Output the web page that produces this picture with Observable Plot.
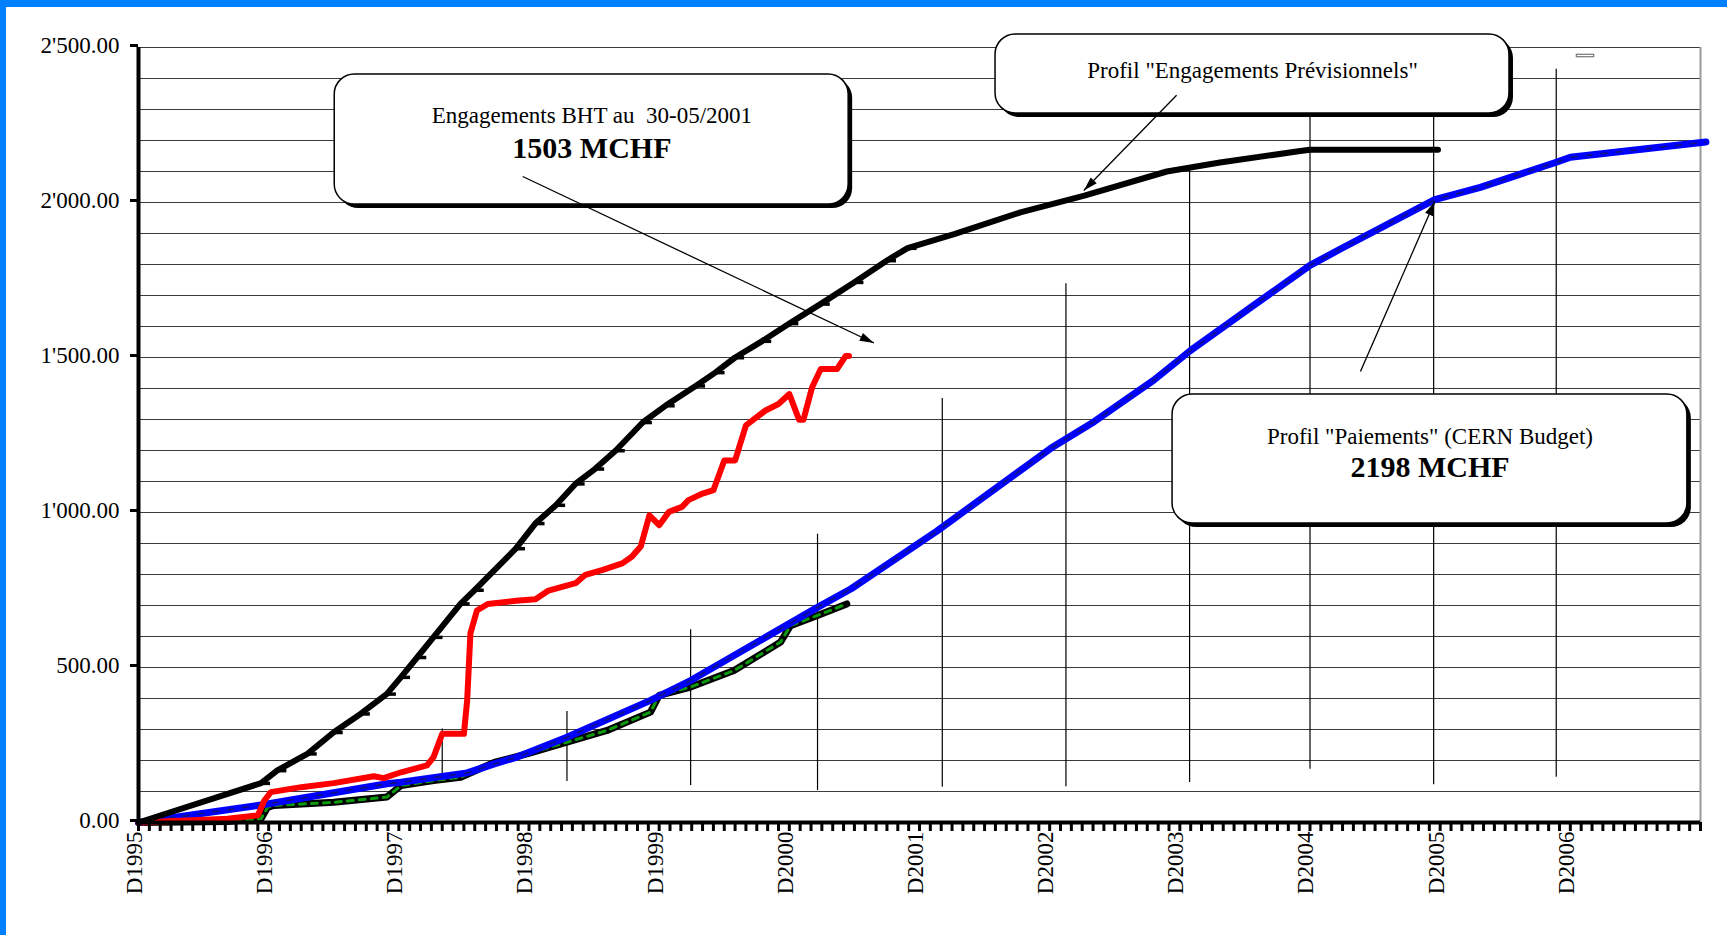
<!DOCTYPE html>
<html><head><meta charset="utf-8">
<script src="https://cdn.jsdelivr.net/npm/d3@7"></script>
<script src="https://cdn.jsdelivr.net/npm/@observablehq/plot@0.6"></script>
<style>
html,body{margin:0;padding:0;background:#fff;overflow:hidden;}
#chart{position:absolute;left:0;top:0;}
#bt{position:absolute;left:0;top:0;width:1727px;height:7px;background:#0080ff;}
#bl{position:absolute;left:0;top:0;width:6px;height:935px;background:#0080ff;}
svg text{white-space:pre;}
</style></head><body>
<div id="chart"></div><div id="bt"></div><div id="bl"></div>
<script>
// ---------- data (months since December 1995, values in MCHF) ----------
const xLabels = ["D1995","D1996","D1997","D1998","D1999","D2000","D2001","D2002","D2003","D2004","D2005","D2006"];
const xLabelMonths = [0,12,24,36,48,60,72,84,96,108,120,132];
const yTicks = [0,500,1000,1500,2000,2500];
const yLabels = ["0.00","500.00","1'000.00","1'500.00","2'000.00","2'500.00"];
const gridValues = [100,200,300,400,500,600,700,800,900,1000,1100,1200,1300,1400,1500,1600,1700,1800,1900,2000,2100,2200,2300,2400,2500];

// Profil "Engagements Prévisionnels" (black)
const prevM = [0,11.3,12.8,15.6,18,20.5,22.9,24.2,25.7,27.2,29.7,31,34.8,36.6,38.5,40.3,42.1,44,46.5,48.6,51.4,53.2,55,57.5,60,62.9,66,69,70.9,75.2,81.3,87.2,94.8,99.7,107.1,108,119.8];
const prevV = [0,127,168,222,291,351,415,469,533,598,706,750,884,965,1024,1093,1141,1200,1291,1345,1409,1452,1500,1553,1610,1673,1743,1813,1853,1898,1968,2022,2100,2129,2166,2170,2170];

// Engagements BHT (red)
const redM = [0,8.2,11,11.6,12.2,15,18,21.7,22.6,24.2,26.6,27.2,28,30,30.3,30.6,31.2,32.2,34.8,36.6,37.8,40.3,41.2,42.8,44.6,45.5,46.3,47.1,48,48.9,50.1,50.7,52,53,54,55,56,56.6,57.8,59,60,60.9,61.3,62.1,62.9,64.4,65.2,65.5];
const redV = [0,12,23,71,98,114,127,149,143,162,184,211,286,286,394,610,684,705,715,720,748,772,799,815,836,858,890,991,959,1002,1018,1040,1061,1072,1168,1168,1281,1297,1329,1350,1382,1299,1299,1404,1463,1463,1505,1505];

// Paiements réels (black / green dashes)
const greenM = [0,8.2,11.3,11.9,12.5,18,22.9,24.2,27.2,29.7,32.8,35.9,39.5,43.2,47.2,48,50.9,54.9,59.2,60.1,62.6,65.3];
const greenV = [0,3,12,49,55,65,82,119,135,146,194,222,259,297,356,410,437,490,582,635,668,705];

// Profil "Paiements" (CERN Budget) (blue)
const blueM = [0,11.6,22.9,24.2,30.3,32.8,34.9,39.5,47.2,50.9,62.6,65.7,73.6,84.1,88.1,93.6,97,102.8,108,110.8,119.5,123.7,130.7,132,144.5];
const blueV = [0,58,125,130,160,189,211,275,394,458,694,754,940,1207,1293,1427,1523,1668,1797,1850,2009,2049,2130,2146,2195];

// thin vertical drop lines
const ruleM  = [28.0,39.5,50.9,62.6,74.1,85.5,96.9,108,119.4,130.7];
const ruleLo = [135,132,119,103,114,115,129,172,122,146];
const ruleHi = [302,358,622,930,1368,1738,2110,2330,2300,2430];

// annotations (data coordinates)
const boxes = [
  {x1:18.09, x2:65.47, y1:1993.5, y2:2412.9},
  {x1:79.01, x2:126.39, y1:2287.1, y2:2541.9},
  {x1:95.33, x2:142.79, y1:964.5, y2:1380.6}
];
const notes = [
  {x:41.8, y:2278.7, text:"Engagements BHT au  30-05/2001", bold:false},
  {x:41.8, y:2175.5, text:"1503 MCHF", bold:true},
  {x:102.7, y:2424.2, text:"Profil \"Engagements Prévisionnels\"", bold:false},
  {x:119.06, y:1245.2, text:"Profil \"Paiements\" (CERN Budget)", bold:false},
  {x:119.06, y:1145.2, text:"2198 MCHF", bold:true}
];
const arrows = [
  {x1:35.42, y1:2083.9, x2:67.8, y2:1546.8},
  {x1:95.7, y1:2346, x2:87.15, y2:2038.7},
  {x1:112.65, y1:1454.8, x2:119.5, y2:2003}
];
const smallMark = [{x1:132.6, x2:134.2, y1:2468.7, y2:2476.5}];

// ---------- build tables ----------
const zip = (M, V) => M.map((m, i) => ({m, v: V[i]}));
const prev = zip(prevM, prevV), red = zip(redM, redV), green = zip(greenM, greenV), blue = zip(blueM, blueV);
const rules = ruleM.map((m, i) => ({m, lo: ruleLo[i], hi: ruleHi[i]}));
const monthTicks = d3.range(0, 145);
const xLab = new Map(xLabelMonths.map((m, i) => [m, xLabels[i]]));
const yLab = new Map(yTicks.map((t, i) => [t, yLabels[i]]));

const FONT = "'Liberation Serif','Times New Roman',serif";
const base = {
  width: 1727, height: 935,
  marginLeft: 138, marginRight: 27, marginTop: 47, marginBottom: 113,
  x: {domain: [0, 144]}, y: {domain: [0, 2500]}
};
const probe = Plot.plot({...base, marks: [Plot.ruleY([0])]});
const sx = probe.scale("x"), sy = probe.scale("y");
const heads = arrows.map(a => ({...a,
  angle: Math.atan2(sx.apply(a.x2) - sx.apply(a.x1), -(sy.apply(a.y2) - sy.apply(a.y1))) * 180 / Math.PI}));

const headSym = {draw(ctx, size) { const l = Math.sqrt(size); ctx.moveTo(0, 0); ctx.lineTo(-0.3 * l, l); ctx.lineTo(0.3 * l, l); ctx.closePath(); }};
const dashSym = {draw(ctx, size) { ctx.rect(-1, -1.5, 10, 3.5); }};

const chart = Plot.plot({
  ...base,
  style: {fontFamily: FONT, fontSize: "23px", background: "white", color: "black", overflow: "visible"},
  marks: [
    Plot.ruleY(gridValues, {stroke: "#3c3c3c", strokeWidth: 1}),
    Plot.ruleX([144], {stroke: "#999", strokeWidth: 2}),
    Plot.ruleX(rules, {x: "m", y1: "lo", y2: "hi", stroke: "black", strokeWidth: 1.2}),
    Plot.line(green, {x: "m", y: "v", stroke: "black", strokeWidth: 7}),
    Plot.line(green, {x: "m", y: "v", stroke: "#0c9a0c", strokeWidth: 3, strokeDasharray: "6,6"}),
    Plot.line(blue, {x: "m", y: "v", stroke: "#0000ff", strokeWidth: 7}),
    Plot.line(blue, {x: "m", y: "v", stroke: "#12127a", strokeWidth: 1.6, strokeDasharray: "6,9"}),
    Plot.line(red, {x: "m", y: "v", stroke: "#ff0000", strokeWidth: 6}),
    Plot.line(prev, {x: "m", y: "v", stroke: "black", strokeWidth: 6}),
    Plot.dot(prev.filter(d => d.m > 0 && d.m < 72), {x: "m", y: "v", symbol: dashSym, r: 3, fill: "black", stroke: "none"}),
    Plot.ruleX([0], {strokeWidth: 4, stroke: "black"}),
    Plot.ruleY([0], {strokeWidth: 4, stroke: "black"}),
    Plot.axisY(yTicks, {tickSize: 8, tickPadding: 11, strokeWidth: 3, tickFormat: d => yLab.get(d), fontSize: 23, label: null, dy: -2}),
    Plot.axisX(monthTicks, {tickSize: 9, strokeWidth: 3, tickFormat: () => "", label: null}),
    Plot.axisX(xLabelMonths, {tickSize: 0, tickPadding: 9, tickRotate: -90, tickFormat: d => xLab.get(d), fontSize: 23, label: null, dx: -4}),
    Plot.rect(boxes, {x1: "x1", x2: "x2", y1: "y1", y2: "y2", fill: "black", rx: 20, dx: 4, dy: 4}),
    Plot.rect(boxes, {x1: "x1", x2: "x2", y1: "y1", y2: "y2", fill: "white", stroke: "black", strokeWidth: 1.5, rx: 20}),
    Plot.rect(smallMark, {x1: "x1", x2: "x2", y1: "y1", y2: "y2", fill: "white", stroke: "#777", strokeWidth: 1.2}),
    Plot.text(notes.filter(d => !d.bold), {x: "x", y: "y", text: "text", fontSize: 23, fill: "black"}),
    Plot.text(notes.filter(d => d.bold), {x: "x", y: "y", text: "text", fontSize: 30, fontWeight: "bold", fill: "black"}),
    Plot.link(arrows, {x1: "x1", y1: "y1", x2: "x2", y2: "y2", stroke: "black", strokeWidth: 1.3}),
    Plot.dot(heads, {x: "x2", y: "y2", symbol: headSym, r: 8, fill: "black", stroke: "none", rotate: "angle"})
  ]
});
document.getElementById("chart").appendChild(chart);
</script></body></html>
